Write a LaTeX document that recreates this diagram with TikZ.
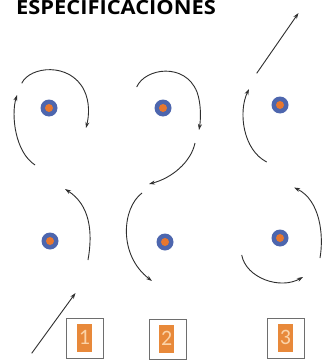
\documentclass[tikz,border=0pt]{standalone}
\usepackage{fontspec}
\setmainfont{Open Sans}
\newfontfamily\digitfont{Carlito}
\usetikzlibrary{arrows.meta}
\definecolor{dotblue}{HTML}{4D66AE}
\definecolor{dotorange}{HTML}{E8772E}
\definecolor{boxorange}{HTML}{E8893A}
\definecolor{digitcol}{HTML}{FBD3A8}
\definecolor{boxgray}{HTML}{6E6E6E}
\definecolor{linecol}{HTML}{2E2E2E}
\tikzset{
  mv/.style={draw=linecol, line width=0.9pt, -{Stealth[length=6pt,width=4pt]}},
  dotouter/.style={circle, fill=dotblue, minimum size=17pt, inner sep=0pt},
  dotinner/.style={circle, fill=dotorange, minimum size=8pt, inner sep=0pt},
  numbox/.style={draw=boxgray, line width=0.9pt, minimum width=37pt, minimum height=40pt, inner sep=0pt},
  numfill/.style={fill=boxorange, minimum width=14.5pt, minimum height=27.5pt, inner sep=0pt, text=digitcol, font=\digitfont\fontsize{22}{22}\selectfont},
  titlestyle/.style={anchor=base west, inner sep=0pt, font=\bfseries\fontsize{19.5}{21}\selectfont}
}
\begin{document}
\begin{tikzpicture}[x=1pt,y=-1pt]
\useasboundingbox (0,0) rectangle (321,361);
\fill[white] (0,0) rectangle (321,361);
% title
\node[titlestyle] (title) at (16,14.8) {\scalebox{1.12}[1]{ESPECIFICACIONES}};
% dots
\foreach \n/\x/\y in {d1/49/108, d2/163/108, d3/280/105, d4/50/241, d5/165/242, d6/280/238}{
  \node[dotouter] (\n) at (\x,\y) {};
  \node[dotinner] (\n i) at (\x,\y) {};
}
% panel 1 top
\draw[mv] (21.7,83.3) .. controls (30,66) and (70,62) .. (84,90) .. controls (90,102) and (89,116) .. (86,128);
\draw[mv] (35,165) .. controls (15,152) and (11,115) .. (17,95);
% panel 1 bottom
\draw[mv] (88,260) .. controls (93,232) and (90,205) .. (65,189);
\draw[mv] (31.7,353.3) -- (75.5,293);
% panel 2 top
\draw[mv] (136.7,87) .. controls (145,68) and (185,62) .. (197,92) .. controls (201,103) and (201,118) .. (199,130);
\draw[mv] (195,143) .. controls (191,162) and (172,178) .. (149,184);
% panel 2 bottom
\draw[mv] (142,193) .. controls (122,208) and (118,255) .. (152,281);
% panel 3 top
\draw[mv] (256.7,73.3) -- (298.5,13);
\draw[mv] (266.7,162) .. controls (243,150) and (238,112) .. (249,89);
% panel 3 bottom
\draw[mv] (241.7,255) .. controls (246,278) and (280,290) .. (303,277);
\draw[mv] (320,258) .. controls (324,235) and (320,200) .. (294,187.5);
% number boxes
\node[numbox] (b1) at (85,338.3) {};
\node[numfill] (n1) at (84.5,337.8) {1};
\node[numbox] (b2) at (167.5,339) {};
\node[numfill] (n2) at (166.7,338.8) {2};
\node[numbox] (b3) at (285.8,338.3) {};
\node[numfill] (n3) at (285.5,337.8) {3};
\end{tikzpicture}
\end{document}
